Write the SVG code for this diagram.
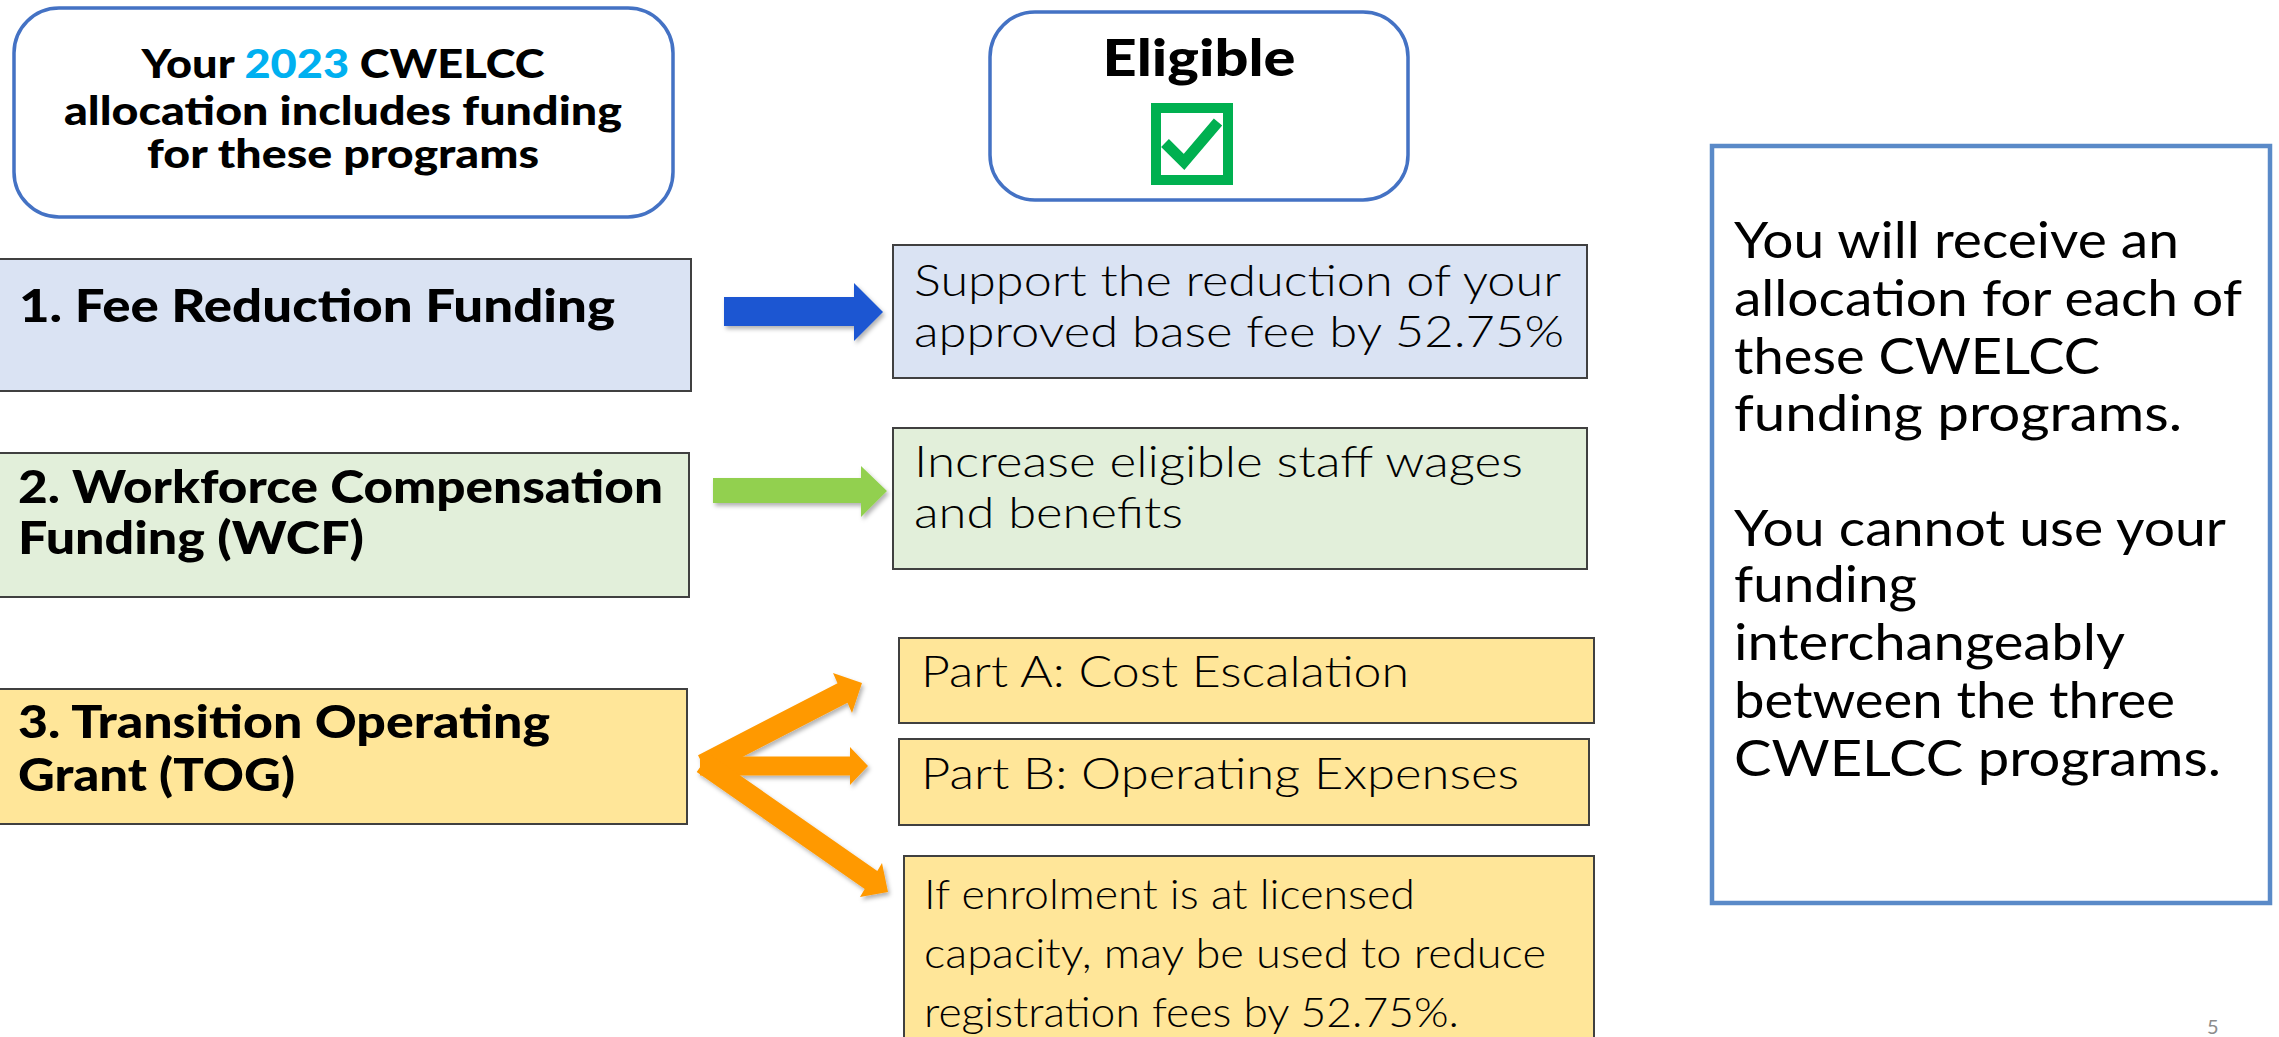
<svg xmlns="http://www.w3.org/2000/svg" width="2279" height="1037" viewBox="0 0 2279 1037">
  <defs>
    <style>
      .hb { font-family: "Lato", "Liberation Sans", sans-serif; font-weight: 900; fill: #000; }
      .lt { font-family: "Lato", "Liberation Sans", sans-serif; font-weight: 300; fill: #000; }
      .rt { font-family: "Lato", "Liberation Sans", sans-serif; font-weight: 400; fill: #000; font-size: 50px; }
      .round { fill: #fff; stroke: #4472C4; stroke-width: 3.5; }
      .box { stroke: #404040; stroke-width: 2; }
      .blue { fill: #DAE3F3; }
      .green { fill: #E2EFDA; }
      .yellow { fill: #FFE699; }
    </style>
    <filter id="shadow" x="-20%" y="-20%" width="140%" height="150%">
      <feDropShadow dx="2" dy="3" stdDeviation="2" flood-color="#000" flood-opacity="0.3"/>
    </filter>
  </defs>
  <rect x="0" y="0" width="2279" height="1037" fill="#fff"/>

  <g id="header-programs">
    <rect class="round" x="14" y="8" width="659" height="209" rx="45" ry="45"/>
    <text class="hb" x="343" y="78" font-size="39" text-anchor="middle" textLength="403" lengthAdjust="spacingAndGlyphs">Your <tspan fill="#00B0F0">2023</tspan> CWELCC</text>
    <text class="hb" x="343" y="125" font-size="39" text-anchor="middle" textLength="558" lengthAdjust="spacingAndGlyphs">allocation includes funding</text>
    <text class="hb" x="343" y="168" font-size="39" text-anchor="middle" textLength="392" lengthAdjust="spacingAndGlyphs">for these programs</text>
  </g>

  <g id="header-eligible">
    <rect class="round" x="990" y="12" width="418" height="188" rx="45" ry="45"/>
    <text class="hb" x="1199" y="76" font-size="52" text-anchor="middle" textLength="193" lengthAdjust="spacingAndGlyphs">Eligible</text>
    <rect x="1156" y="108" width="72" height="72" fill="#fff" stroke="#00B050" stroke-width="10"/>
    <polyline points="1165,143 1184,162 1218,122" fill="none" stroke="#00B050" stroke-width="11"/>
  </g>

  <g id="program-fee">
    <rect class="box blue" x="-5" y="259" width="696" height="132"/>
    <text class="hb" x="19" y="322" font-size="46" textLength="596" lengthAdjust="spacingAndGlyphs">1. Fee Reduction Funding</text>
  </g>

  <g id="program-wcf">
    <rect class="box green" x="-5" y="453" width="694" height="144"/>
    <text class="hb" x="18" y="503" font-size="46" textLength="645" lengthAdjust="spacingAndGlyphs">2. Workforce Compensation</text>
    <text class="hb" x="18" y="554" font-size="46" textLength="346" lengthAdjust="spacingAndGlyphs">Funding (WCF)</text>
  </g>

  <g id="program-tog">
    <rect class="box yellow" x="-5" y="689" width="692" height="135"/>
    <text class="hb" x="18" y="738" font-size="46" textLength="532" lengthAdjust="spacingAndGlyphs">3. Transition Operating</text>
    <text class="hb" x="18" y="791" font-size="46" textLength="277" lengthAdjust="spacingAndGlyphs">Grant (TOG)</text>
  </g>

  <g id="eligible-fee">
    <rect class="box blue" x="893" y="245" width="694" height="133"/>
    <text class="lt" x="914" y="296" font-size="44" textLength="647" lengthAdjust="spacingAndGlyphs">Support the reduction of your</text>
    <text class="lt" x="914" y="347" font-size="44" textLength="650" lengthAdjust="spacingAndGlyphs">approved base fee by 52.75%</text>
  </g>

  <g id="eligible-wcf">
    <rect class="box green" x="893" y="428" width="694" height="141"/>
    <text class="lt" x="914" y="477" font-size="44" textLength="609" lengthAdjust="spacingAndGlyphs">Increase eligible staff wages</text>
    <text class="lt" x="914" y="528" font-size="44" textLength="269" lengthAdjust="spacingAndGlyphs">and benefits</text>
  </g>

  <g id="eligible-tog-a">
    <rect class="box yellow" x="899" y="638" width="695" height="85"/>
    <text class="lt" x="921" y="687" font-size="44" textLength="488" lengthAdjust="spacingAndGlyphs">Part A: Cost Escalation</text>
  </g>

  <g id="eligible-tog-b">
    <rect class="box yellow" x="899" y="739" width="690" height="86"/>
    <text class="lt" x="921" y="789" font-size="44" textLength="598" lengthAdjust="spacingAndGlyphs">Part B: Operating Expenses</text>
  </g>

  <g id="eligible-tog-c">
    <rect class="box yellow" x="904" y="856" width="690" height="200"/>
    <text class="lt" x="924" y="909" font-size="41" textLength="491" lengthAdjust="spacingAndGlyphs">If enrolment is at licensed</text>
    <text class="lt" x="924" y="968" font-size="41" textLength="622" lengthAdjust="spacingAndGlyphs">capacity, may be used to reduce</text>
    <text class="lt" x="924" y="1027" font-size="41" textLength="535" lengthAdjust="spacingAndGlyphs">registration fees by 52.75%.</text>
  </g>

  <g id="note">
    <rect x="1712" y="146" width="558" height="757" fill="#fff" stroke="#5A8AC8" stroke-width="4.5"/>
    <text class="rt" x="1734" y="258" textLength="445" lengthAdjust="spacingAndGlyphs">You will receive an</text>
    <text class="rt" x="1734" y="316" textLength="508" lengthAdjust="spacingAndGlyphs">allocation for each of</text>
    <text class="rt" x="1734" y="374" textLength="366" lengthAdjust="spacingAndGlyphs">these CWELCC</text>
    <text class="rt" x="1734" y="431" textLength="448" lengthAdjust="spacingAndGlyphs">funding programs.</text>
    <text class="rt" x="1734" y="546" textLength="492" lengthAdjust="spacingAndGlyphs">You cannot use your</text>
    <text class="rt" x="1734" y="602" textLength="183" lengthAdjust="spacingAndGlyphs">funding</text>
    <text class="rt" x="1734" y="660" textLength="391" lengthAdjust="spacingAndGlyphs">interchangeably</text>
    <text class="rt" x="1734" y="718" textLength="441" lengthAdjust="spacingAndGlyphs">between the three</text>
    <text class="rt" x="1734" y="776" textLength="487" lengthAdjust="spacingAndGlyphs">CWELCC programs.</text>
  </g>

  <g id="page-number">
    <text x="2207" y="1034" font-family="Lato, 'Liberation Sans', sans-serif" font-size="20" fill="#8C8C8C">5</text>
  </g>

  <g id="connectors" filter="url(#shadow)">
    <polygon fill="#1A56D2" points="724,297 854,297 854,283 883,312 854,341 854,326 724,326"/>
    <polygon fill="#92D050" points="713,478 861,478 861,466 887,491 861,517 861,503 713,503"/>
    <polygon fill="#FF9900" points="698,755.2 837.5,683.2 833,673 862,683 852,713 847.5,702.8 708,774.8"/>
    <polygon fill="#FF9900" points="700,756.5 850,756.5 850,747 868,766 850,785 850,775.5 700,775.5"/>
    <polygon fill="#FF9900" points="709.3,754 877.3,871 882,863 888,892 860,897 864.7,889 696.7,772"/>
  </g>
</svg>
